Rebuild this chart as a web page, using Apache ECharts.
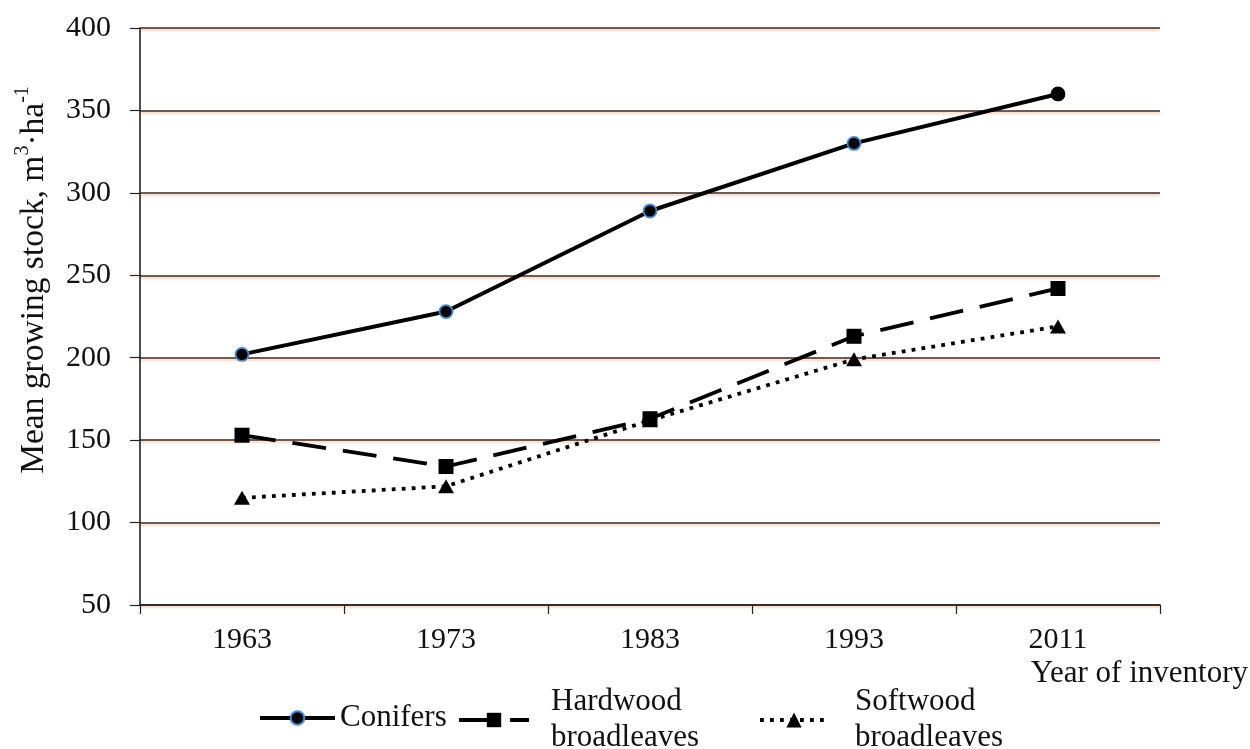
<!DOCTYPE html>
<html><head><meta charset="utf-8">
<script src="https://cdn.jsdelivr.net/npm/echarts@6/dist/echarts.min.js"></script>
<style>html,body{margin:0;padding:0;background:#fff}#c{width:1250px;height:749px}</style>
</head><body><div id="c"></div>
<script>
// ---- data ----
const years = ['1963', '1973', '1983', '1993', '2011'];
const conifers = [202, 228, 289, 330, 360];
const hardwood = [153, 134, 163, 213, 242];
const softwood = [115, 122, 162, 199, 219];
const yMin = 50, yMax = 400, yStep = 50;
const names = ['Conifers', 'Hardwood broadleaves', 'Softwood broadleaves'];
const xTitle = 'Year of inventory';
const yTitleParts = ['Mean growing stock, m', '3', '·ha', '-1'];

// ---- style ----
const FONT = 'Liberation Serif';
const INK = '#111111';
const GRID = '#352926';

const chart = echarts.init(document.getElementById('c'), null, {renderer: 'canvas'});

const legendText = (padTop, padLeft) => ({
  fontFamily: FONT, fontSize: 31, color: INK, lineHeight: 36, padding: [padTop, 0, 0, padLeft]
});
const legendLine = {width: 4};

chart.setOption({
  animation: false,
  backgroundColor: '#ffffff',
  grid: {left: 140, right: 90, top: 28, bottom: 144, containLabel: false, outerBoundsMode: 'none'},
  xAxis: {
    type: 'category',
    data: years,
    boundaryGap: true,
    axisLine: {show: true, lineStyle: {color: '#222', width: 1.6}},
    axisTick: {show: true, inside: false, length: 9, alignWithLabel: false, lineStyle: {color: '#222', width: 1.2}},
    axisLabel: {fontFamily: FONT, fontSize: 30, color: INK, margin: 20},
    splitLine: {show: false}
  },
  yAxis: {
    type: 'value',
    min: yMin, max: yMax, interval: yStep,
    axisLine: {show: true, lineStyle: {color: '#222', width: 1.6}},
    axisTick: {show: true, inside: false, length: 10, lineStyle: {color: '#222', width: 1.2}},
    axisLabel: {fontFamily: FONT, fontSize: 30, color: INK, margin: 29},
    splitLine: {show: true, lineStyle: {color: GRID, width: 1.6, shadowColor: 'rgba(245,150,110,0.55)', shadowOffsetY: 2, shadowBlur: 2}}
  },
  legend: [
    {data: [names[0]], left: 253, top: 695, itemWidth: 75, itemHeight: 17, itemGap: 0,
     lineStyle: legendLine, textStyle: legendText(0, 0), selectedMode: false},
    {data: [names[1]], left: 452, top: 675, itemWidth: 70, itemHeight: 18, itemGap: 0,
     lineStyle: legendLine, formatter: n => n.replace(' ', '\n'), textStyle: legendText(8, 17), selectedMode: false},
    {data: [names[2]], left: 753, top: 675, itemWidth: 68, itemHeight: 19, itemGap: 0,
     lineStyle: legendLine, formatter: n => n.replace(' ', '\n'), textStyle: legendText(8, 22), selectedMode: false}
  ],
  graphic: [{
    type: 'text',
    x: 34, y: 280,
    rotation: Math.PI / 2,
    style: {
      text: '{a|' + yTitleParts[0] + '}{s|' + yTitleParts[1] + '}{a|' + yTitleParts[2] + '}{s|' + yTitleParts[3] + '}',
      align: 'center', verticalAlign: 'middle',
      rich: {
        a: {fontFamily: FONT, fontSize: 33.5, fill: INK, lineHeight: 42},
        s: {fontFamily: FONT, fontSize: 20, fill: INK, lineHeight: 27, verticalAlign: 'top'}
      }
    }
  }, {
    type: 'text',
    x: 1248, y: 674,
    style: {text: xTitle, fontFamily: FONT, fontSize: 31, fill: INK, align: 'right', verticalAlign: 'middle'}
  }],
  series: [
    {
      name: names[0], type: 'line', z: 5,
      data: conifers.map((v, i) => i === conifers.length - 1 ? {value: v, itemStyle: {borderColor: '#000'}} : v),
      symbol: 'circle', symbolSize: 13,
      lineStyle: {color: '#000', width: 4},
      itemStyle: {color: '#000', borderColor: '#4f86c6', borderWidth: 1.8}
    },
    {
      name: names[1], type: 'line', z: 4,
      data: hardwood,
      symbol: 'rect', symbolSize: 15,
      lineStyle: {color: '#000', width: 3.8, type: [34, 17]},
      itemStyle: {color: '#000', borderWidth: 0}
    },
    {
      name: names[2], type: 'line', z: 3,
      data: softwood,
      symbol: 'triangle', symbolSize: [16, 14],
      lineStyle: {color: '#000', width: 3.8, type: [3.8, 6.2]},
      itemStyle: {color: '#000', borderWidth: 0}
    }
  ]
});
</script>
</body></html>
